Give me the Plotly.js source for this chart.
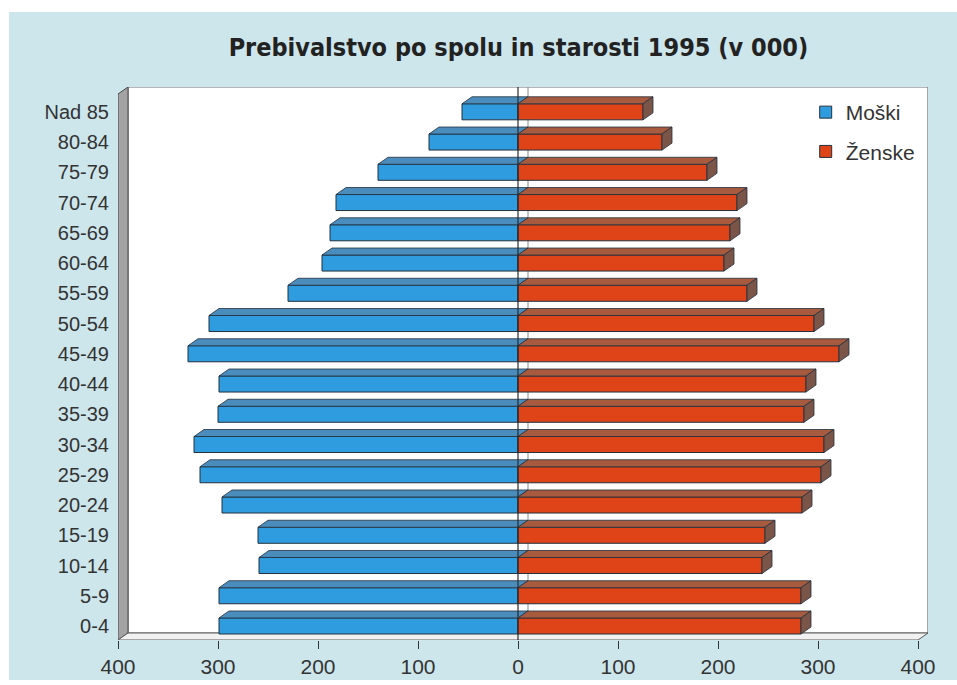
<!DOCTYPE html>
<html>
<head>
<meta charset="utf-8">
<script src="https://cdn.plot.ly/plotly-3.0.1.min.js"></script>
<style>
  html, body { margin: 0; padding: 0; background: #ffffff; width: 957px; height: 685px; overflow: hidden; }
  #chart { position: absolute; left: 9px; top: 12px; width: 948px; height: 668px; }
</style>
</head>
<body>
<div id="chart"></div>
<script>
// ---- data (thousands) ----
const ageGroups = ['0-4','5-9','10-14','15-19','20-24','25-29','30-34','35-39','40-44','45-49','50-54','55-59','60-64','65-69','70-74','75-79','80-84','Nad 85'];
const males   = [299, 299, 259, 260, 296, 318, 324, 300, 299, 330, 309, 230, 196, 188, 182, 140,  89,  56];
const females = [283, 283, 244, 247, 284, 303, 306, 286, 288, 321, 296, 229, 206, 212, 219, 189, 144, 125];
const xTickVals = [-400, -300, -200, -100, 0, 100, 200, 300, 400];
const xTickText = ['400', '300', '200', '100', '0', '100', '200', '300', '400'];
const seriesNames = ['Moški', 'Ženske'];

// ---- styling / geometry ----
const BW = 0.53;          // bar thickness (category units)
const DX = 10;            // 3D depth along x (data units)
const DY = 0.2315;        // 3D depth along y (category units)
const Y0 = -0.463, Y1 = 17.82;
const blue = '#2f9ce0', blueTop = '#4a8cbc';
const red = '#df4419', redTop = '#a85a3e', redSide = '#7a5548';
const edge = '#22303c';

const idx = ageGroups.map((_, i) => i);

function polyTrace(polys, fill) {
  const xs = [], ys = [];
  polys.forEach(p => { p.forEach(pt => { xs.push(pt[0]); ys.push(pt[1]); }); xs.push(null); ys.push(null); });
  return { type: 'scatter', mode: 'lines', x: xs, y: ys, fill: 'toself', fillcolor: fill,
           line: { color: edge, width: 0.8 }, hoverinfo: 'skip', showlegend: false };
}

const maleTop = males.map((m, i) => {
  const yb = i + BW / 2;
  return [[-m, yb], [0, yb], [DX, yb + DY], [-m + DX, yb + DY], [-m, yb]];
});
const femTop = females.map((f, i) => {
  const yb = i + BW / 2;
  return [[0, yb], [f, yb], [f + DX, yb + DY], [DX, yb + DY], [0, yb]];
});
const femSide = females.map((f, i) => {
  const ya = i - BW / 2, yb = i + BW / 2;
  return [[f, ya], [f + DX, ya + DY], [f + DX, yb + DY], [f, yb], [f, ya]];
});

const traces = [
  { type: 'bar', orientation: 'h', name: seriesNames[0], legendgroup: 'm',
    y: idx, x: males.map(v => -v), base: 0, width: BW,
    customdata: males, hovertemplate: '%{customdata}<extra>Moški</extra>',
    marker: { color: blue, line: { color: edge, width: 1 } } },
  { type: 'bar', orientation: 'h', name: seriesNames[1], legendgroup: 'f',
    y: idx, x: females, base: 0, width: BW,
    marker: { color: red, line: { color: edge, width: 1 } } },
  polyTrace(maleTop, blueTop),
  polyTrace(femTop, redTop),
  polyTrace(femSide, redSide)
];

const shapes = [
  // back wall
  { type: 'rect', layer: 'below', xref: 'x', yref: 'y', x0: -400 + DX, x1: 400 + DX, y0: Y0 + DY, y1: Y1,
    fillcolor: '#ffffff', line: { color: '#6d6d6d', width: 1.2 } },
  // left wall
  { type: 'path', layer: 'below', xref: 'x', yref: 'y',
    path: `M -400 ${Y0} L -400 ${Y1 - DY} L ${-400 + DX} ${Y1} L ${-400 + DX} ${Y0 + DY} Z`,
    fillcolor: '#a3a3a3', line: { color: '#4a4a4a', width: 1 } },
  // floor
  { type: 'path', layer: 'below', xref: 'x', yref: 'y',
    path: `M -400 ${Y0} L 400 ${Y0} L ${400 + DX} ${Y0 + DY} L ${-400 + DX} ${Y0 + DY} Z`,
    fillcolor: '#f1f1f1', line: { color: '#5a5a5a', width: 1 } },
  // back zero line
  { type: 'line', layer: 'below', xref: 'x', yref: 'y', x0: DX, x1: DX, y0: Y0 + DY, y1: Y1,
    line: { color: '#8a8a8a', width: 1 } },
  // front zero line
  { type: 'line', layer: 'above', xref: 'x', yref: 'y', x0: 0, x1: 0, y0: Y0, y1: Y1,
    line: { color: '#2a2a2a', width: 1.2 } }
];

const layout = {
  width: 948, height: 668,
  margin: { l: 109, r: 29, t: 75, b: 40, pad: 0 },
  paper_bgcolor: '#cde6ec',
  plot_bgcolor: 'rgba(0,0,0,0)',
  font: { family: 'Liberation Sans, Arial, sans-serif', color: '#333333' },
  title: { text: 'Prebivalstvo po spolu in starosti 1995 (v 000)',
           font: { family: 'Liberation Sans Narrow, DejaVu Sans Condensed, Arial Narrow, sans-serif', size: 25, weight: 'bold', color: '#222222' },
           xref: 'paper', x: 0.4944, xanchor: 'center', yref: 'container', y: 0.9476, yanchor: 'middle' },
  barmode: 'overlay',
  showlegend: true,
  legend: { x: 0.849, xanchor: 'left', y: 0.991, yanchor: 'top', bgcolor: 'rgba(0,0,0,0)',
            font: { size: 21, color: '#333333' }, tracegroupgap: 9, traceorder: 'grouped' },
  xaxis: { range: [-400, 400 + DX], tickvals: xTickVals, ticktext: xTickText,
           showgrid: false, zeroline: false, showline: false,
           ticks: 'outside', ticklen: 8, tickwidth: 1, tickcolor: '#333333',
           tickfont: { size: 21, color: '#333333' }, fixedrange: true },
  yaxis: { range: [Y0, Y1], tickvals: idx, ticktext: ageGroups,
           showgrid: false, zeroline: false, showline: false, ticks: '',
           ticklabelstandoff: 8,
           tickfont: { size: 20, color: '#333333' }, fixedrange: true },
  shapes: shapes
};

Plotly.newPlot('chart', traces, layout, { displayModeBar: false, staticPlot: true });
</script>
</body>
</html>
